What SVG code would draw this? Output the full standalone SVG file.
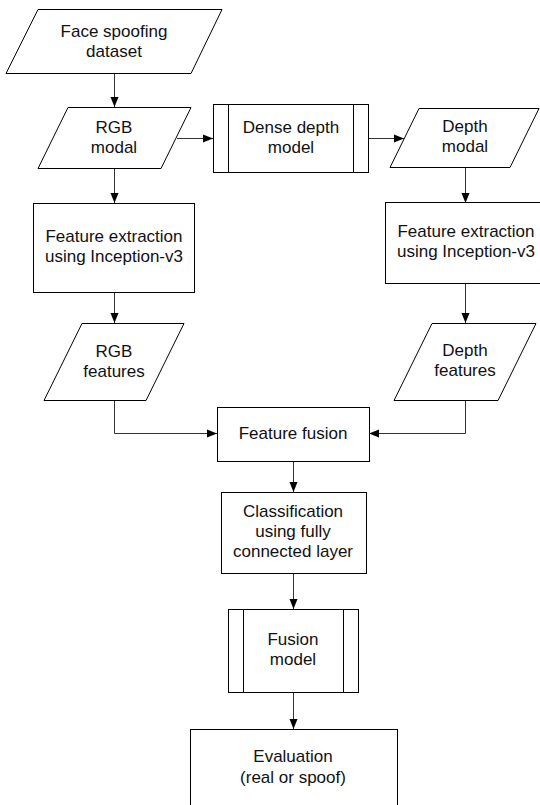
<svg xmlns="http://www.w3.org/2000/svg" width="540" height="805" viewBox="0 0 540 805">
  <defs>
    <marker id="arrow" markerUnits="userSpaceOnUse" markerWidth="10" markerHeight="10" viewBox="0 0 10 10" refX="10" refY="5" orient="auto">
      <path d="M0,1 L10,5 L0,9 Z" fill="#000"/>
    </marker>
    <style>
      .shape { fill: #fff; stroke: #000; stroke-width: 1; }
      .bar { fill: none; stroke: #000; stroke-width: 1; }
      .link { fill: none; stroke: #333; stroke-width: 1; marker-end: url(#arrow); }
      text { font-family: "Liberation Sans", Arial, sans-serif; font-size: 17px; fill: #111; text-anchor: middle; }
    </style>
  </defs>
  <rect width="540" height="805" fill="#fff"/>

  <!-- connectors -->
  <g id="connectors">
    <path class="link" d="M114.5,73 V107"/>
    <path class="link" d="M177,138.5 H213"/>
    <path class="link" d="M368,138.5 H404"/>
    <path class="link" d="M114.5,168 V203"/>
    <path class="link" d="M465.5,167 V203"/>
    <path class="link" d="M114.5,292 V323"/>
    <path class="link" d="M465.5,283 V323"/>
    <path class="link" d="M114.5,400 V433.5 H217"/>
    <path class="link" d="M465.5,400 V433.5 H369"/>
    <path class="link" d="M293.5,461 V492"/>
    <path class="link" d="M293.5,573 V609"/>
    <path class="link" d="M293.5,692 V729"/>
  </g>

  <!-- input dataset -->
  <g id="dataset">
    <polygon class="shape" points="38,9.5 222,9.5 191,73.5 6,73.5"/>
    <text x="114" y="37">Face spoofing</text>
    <text x="114" y="57">dataset</text>
  </g>

  <g id="rgb-modal">
    <polygon class="shape" points="68,107.5 191,107.5 161,168.5 38,168.5"/>
    <text x="114" y="133">RGB</text>
    <text x="114" y="153">modal</text>
  </g>

  <g id="dense-depth-model">
    <rect class="shape" x="213.5" y="104.5" width="155" height="68"/>
    <line class="bar" x1="228.5" y1="104.5" x2="228.5" y2="172.5"/>
    <line class="bar" x1="353.5" y1="104.5" x2="353.5" y2="172.5"/>
    <text x="291" y="133">Dense depth</text>
    <text x="291" y="153">model</text>
  </g>

  <g id="depth-modal">
    <polygon class="shape" points="419,108.5 539,108.5 510,167.5 390,167.5"/>
    <text x="465" y="132">Depth</text>
    <text x="465" y="152">modal</text>
  </g>

  <g id="rgb-extraction">
    <rect class="shape" x="33.5" y="203.5" width="161" height="89"/>
    <text x="114" y="242">Feature extraction</text>
    <text x="114" y="262">using Inception-v3</text>
  </g>

  <g id="depth-extraction">
    <rect class="shape" x="385.5" y="202.5" width="162" height="81"/>
    <text x="466" y="237">Feature extraction</text>
    <text x="466" y="257">using Inception-v3</text>
  </g>

  <g id="rgb-features">
    <polygon class="shape" points="82,323.5 184,323.5 146,400.5 44,400.5"/>
    <text x="114" y="357">RGB</text>
    <text x="114" y="377">features</text>
  </g>

  <g id="depth-features">
    <polygon class="shape" points="432,323.5 536,323.5 498,400.5 394,400.5"/>
    <text x="465" y="356">Depth</text>
    <text x="465" y="376">features</text>
  </g>

  <g id="feature-fusion">
    <rect class="shape" x="217.5" y="407.5" width="152" height="54"/>
    <text x="293" y="439">Feature fusion</text>
  </g>

  <g id="classification">
    <rect class="shape" x="221.5" y="492.5" width="145" height="81"/>
    <text x="293" y="517">Classification</text>
    <text x="293" y="537">using fully</text>
    <text x="293" y="557">connected layer</text>
  </g>

  <g id="fusion-model">
    <rect class="shape" x="228.5" y="609.5" width="130" height="83"/>
    <line class="bar" x1="243.5" y1="609.5" x2="243.5" y2="692.5"/>
    <line class="bar" x1="343.5" y1="609.5" x2="343.5" y2="692.5"/>
    <text x="293" y="645">Fusion</text>
    <text x="293" y="665">model</text>
  </g>

  <g id="evaluation">
    <rect class="shape" x="190.5" y="729.5" width="207" height="90"/>
    <text x="293" y="762">Evaluation</text>
    <text x="293" y="783">(real or spoof)</text>
  </g>
</svg>
